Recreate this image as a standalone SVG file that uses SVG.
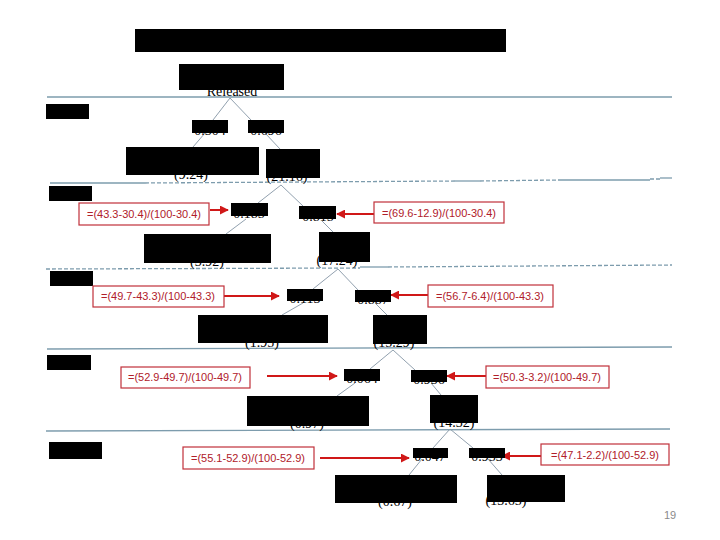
<svg xmlns="http://www.w3.org/2000/svg" width="720" height="540" viewBox="0 0 720 540">
<defs>
<style>
.sep{stroke:#7d9cad;stroke-width:1.3;fill:none}
.dash{stroke-dasharray:4 2}
.tl{stroke:#8495a5;stroke-width:0.9;fill:none}
.lab{font-family:"Liberation Serif","Times New Roman",serif;font-size:14px;fill:#000;text-anchor:middle}
.blk{fill:#000}
.ann rect{fill:#fff;stroke:#c0303a;stroke-width:1.2}
.ann text{font-family:"Liberation Sans",Arial,sans-serif;font-size:11px;fill:#b0202a;text-anchor:middle}
.arr{stroke:#d01818;stroke-width:2;fill:none;marker-end:url(#ah)}
.pg{font-family:"Liberation Sans",Arial,sans-serif;font-size:11px;fill:#8a8a8a}
</style>
<marker id="ah" viewBox="0 0 10 10" refX="9" refY="5" markerWidth="4.5" markerHeight="4.5" orient="auto" markerUnits="strokeWidth">
<path d="M0,0 L10,5 L0,10 z" fill="#d01818"/>
</marker>
</defs>
<rect width="720" height="540" fill="#fff"/>

<g id="title"><rect class="blk" x="135" y="29" width="371" height="23"/></g>

<g id="separators">
<line class="sep" x1="47" y1="97" x2="672" y2="97"/>
<line class="sep" x1="50" y1="183" x2="145" y2="183"/>
<line class="sep dash" x1="145" y1="183" x2="455" y2="181"/>
<line class="sep" x1="455" y1="181" x2="480" y2="181"/>
<line class="sep dash" x1="480" y1="181" x2="558" y2="180"/>
<line class="sep" x1="558" y1="180" x2="650" y2="180"/>
<line class="sep dash" x1="650" y1="179" x2="660" y2="179"/>
<line class="sep" x1="660" y1="178" x2="672" y2="178"/>
<line class="sep dash" x1="46" y1="269" x2="360" y2="268"/>
<line class="sep" x1="360" y1="267" x2="388" y2="267"/>
<line class="sep dash" x1="388" y1="267" x2="672" y2="265"/>
<line class="sep" x1="47" y1="349" x2="672" y2="347"/>
<line class="sep" x1="46" y1="431" x2="670" y2="429"/>
</g>

<g id="row-labels">
<rect class="blk" x="46" y="104" width="43" height="15"/>
<rect class="blk" x="49" y="186" width="43" height="15"/>
<rect class="blk" x="50" y="271" width="43" height="15"/>
<rect class="blk" x="47" y="355" width="44" height="15"/>
<rect class="blk" x="49" y="442" width="53" height="17"/>
</g>

<g id="connectors">
<line class="tl" x1="230" y1="98" x2="213" y2="120"/>
<line class="tl" x1="230" y1="98" x2="251" y2="120"/>
<line class="tl" x1="205" y1="133" x2="193" y2="147"/>
<line class="tl" x1="265" y1="133" x2="280" y2="149"/>
<line class="tl" x1="281" y1="185" x2="258" y2="203"/>
<line class="tl" x1="281" y1="185" x2="303" y2="206"/>
<line class="tl" x1="246" y1="219" x2="226" y2="234"/>
<line class="tl" x1="322" y1="221" x2="333" y2="232"/>
<line class="tl" x1="338" y1="269" x2="313" y2="289"/>
<line class="tl" x1="338" y1="269" x2="358" y2="290"/>
<line class="tl" x1="303" y1="303" x2="282" y2="315"/>
<line class="tl" x1="375" y1="303" x2="387" y2="315"/>
<line class="tl" x1="393" y1="350" x2="370" y2="369"/>
<line class="tl" x1="393" y1="350" x2="415" y2="370"/>
<line class="tl" x1="355" y1="383" x2="337" y2="396"/>
<line class="tl" x1="431" y1="383" x2="441" y2="395"/>
<line class="tl" x1="450" y1="429" x2="433" y2="448"/>
<line class="tl" x1="450" y1="429" x2="473" y2="448"/>
<line class="tl" x1="422" y1="459" x2="409" y2="475"/>
<line class="tl" x1="488" y1="459" x2="502" y2="475"/>
<line class="arr" x1="210" y1="210" x2="228" y2="210"/>
<line class="arr" x1="374" y1="214" x2="337" y2="214"/>
<line class="arr" x1="224" y1="296" x2="279" y2="296"/>
<line class="arr" x1="428" y1="295" x2="391" y2="295"/>
<line class="arr" x1="267" y1="376" x2="337" y2="376"/>
<line class="arr" x1="486" y1="376" x2="447" y2="376"/>
<line class="arr" x1="320" y1="458" x2="409" y2="458"/>
<line class="arr" x1="541" y1="456" x2="502" y2="456"/>
</g>

<g id="root"><text class="lab" x="232" y="96">Released</text><rect class="blk" x="179" y="64" width="105" height="26"/></g>
<g id="n1a"><text class="lab" x="210" y="135">0.304</text><rect class="blk" x="192" y="120" width="36" height="13"/></g>
<g id="n1b"><text class="lab" x="266" y="135">0.696</text><rect class="blk" x="248" y="120" width="36" height="13"/></g>
<g id="n2a"><text class="lab" x="191" y="179">(9.24)</text><rect class="blk" x="126" y="147" width="133" height="28"/></g>
<g id="n2b"><text class="lab" x="287" y="181">(21.16)</text><rect class="blk" x="266" y="149" width="54" height="29"/></g>
<g id="n3a"><text class="lab" x="249" y="218">0.185</text><rect class="blk" x="231" y="203" width="37" height="13"/></g>
<g id="n3b"><text class="lab" x="318" y="221">0.815</text><rect class="blk" x="299" y="206" width="37" height="13"/></g>
<g id="n4a"><text class="lab" x="207" y="266">(3.92)</text><rect class="blk" x="144" y="234" width="127" height="29"/></g>
<g id="n4b"><text class="lab" x="337" y="265">(17.24)</text><rect class="blk" x="319" y="232" width="51" height="30"/></g>
<g id="n5a"><text class="lab" x="305" y="303">0.113</text><rect class="blk" x="287" y="289" width="36" height="12"/></g>
<g id="n5b"><text class="lab" x="373" y="304">0.887</text><rect class="blk" x="355" y="290" width="36" height="12"/></g>
<g id="n6a"><text class="lab" x="262" y="347">(1.95)</text><rect class="blk" x="198" y="315" width="130" height="28"/></g>
<g id="n6b"><text class="lab" x="394" y="347">(15.29)</text><rect class="blk" x="373" y="315" width="54" height="29"/></g>
<g id="n7a"><text class="lab" x="362" y="383">0.064</text><rect class="blk" x="344" y="369" width="36" height="12"/></g>
<g id="n7b"><text class="lab" x="429" y="384">0.936</text><rect class="blk" x="411" y="370" width="36" height="12"/></g>
<g id="n8a"><text class="lab" x="307" y="428">(0.97)</text><rect class="blk" x="247" y="396" width="122" height="30"/></g>
<g id="n8b"><text class="lab" x="454" y="427">(14.32)</text><rect class="blk" x="430" y="395" width="48" height="28"/></g>
<g id="n9a"><text class="lab" x="430" y="461">0.047</text><rect class="blk" x="413" y="448" width="35" height="10"/></g>
<g id="n9b"><text class="lab" x="487" y="461">0.953</text><rect class="blk" x="469" y="448" width="36" height="10"/></g>
<g id="n10a"><text class="lab" x="395" y="506">(0.67)</text><rect class="blk" x="335" y="475" width="122" height="28"/></g>
<g id="n10b"><text class="lab" x="506" y="505">(13.65)</text><rect class="blk" x="487" y="475" width="78" height="27"/></g>

<g id="ann1" class="ann"><rect x="79" y="203" width="130" height="22"/><text x="144" y="218">=(43.3-30.4)/(100-30.4)</text></g>
<g id="ann2" class="ann"><rect x="374" y="202" width="130" height="21"/><text x="439" y="217">=(69.6-12.9)/(100-30.4)</text></g>
<g id="ann3" class="ann"><rect x="93" y="286" width="131" height="21"/><text x="158" y="300">=(49.7-43.3)/(100-43.3)</text></g>
<g id="ann4" class="ann"><rect x="428" y="285" width="125" height="22"/><text x="490" y="300">=(56.7-6.4)/(100-43.3)</text></g>
<g id="ann5" class="ann"><rect x="121" y="367" width="129" height="21"/><text x="185" y="381">=(52.9-49.7)/(100-49.7)</text></g>
<g id="ann6" class="ann"><rect x="486" y="366" width="123" height="22"/><text x="547" y="381">=(50.3-3.2)/(100-49.7)</text></g>
<g id="ann7" class="ann"><rect x="183" y="447" width="131" height="22"/><text x="248" y="462">=(55.1-52.9)/(100-52.9)</text></g>
<g id="ann8" class="ann"><rect x="541" y="444" width="128" height="21"/><text x="605" y="459">=(47.1-2.2)/(100-52.9)</text></g>

<text class="pg" x="664" y="519">19</text>
</svg>
